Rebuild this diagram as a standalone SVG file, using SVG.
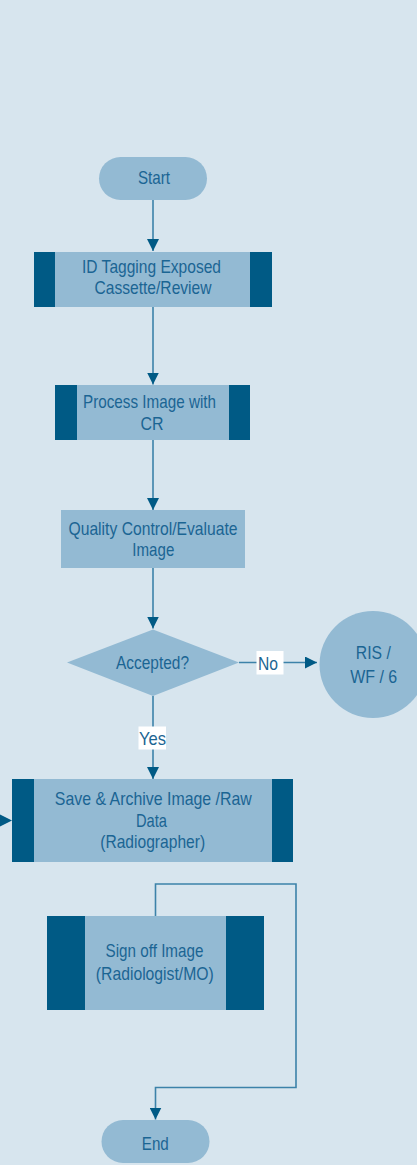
<svg xmlns="http://www.w3.org/2000/svg" width="417" height="1165" viewBox="0 0 417 1165">
<defs>
<style>
.n{fill:#93bad3;}
.d{fill:#005a85;}
.t{font-family:"Liberation Sans",Arial,sans-serif;font-size:19px;fill:#1b6593;text-anchor:middle;}
.e{fill:none;stroke:#3c82a9;stroke-width:1.6;}
.lb{fill:#ffffff;}
</style>
<marker id="ah" markerWidth="12" markerHeight="12" refX="12" refY="6" orient="auto" markerUnits="userSpaceOnUse">
<path d="M0,0 L12,6 L0,12 Z" fill="#005a85"/>
</marker>
</defs>
<rect x="0" y="0" width="417" height="1165" fill="#d7e5ee"/>

<g id="connectors">
<line class="e" x1="153" y1="200" x2="153" y2="251" marker-end="url(#ah)"/>
<line class="e" x1="153" y1="307" x2="153" y2="384.5" marker-end="url(#ah)"/>
<line class="e" x1="153" y1="440" x2="153" y2="510" marker-end="url(#ah)"/>
<line class="e" x1="153" y1="568" x2="153" y2="628.5" marker-end="url(#ah)"/>
<line class="e" x1="239" y1="662.5" x2="317" y2="662.5" marker-end="url(#ah)"/>
<line class="e" x1="153" y1="696" x2="153" y2="779" marker-end="url(#ah)"/>
<polyline class="e" points="155.5,916 155.5,884 296,884 296,1087.5 155.5,1087.5 155.5,1119.5" marker-end="url(#ah)"/>
<path d="M0,814.5 L12,820.5 L0,826.5 Z" fill="#005a85"/>
<rect class="lb" x="256.5" y="651" width="27" height="23.5"/>
<text class="t" x="268" y="670" textLength="20" lengthAdjust="spacingAndGlyphs">No</text>
<rect class="lb" x="138.5" y="726.5" width="27.5" height="23"/>
<text class="t" x="152.5" y="745" textLength="27" lengthAdjust="spacingAndGlyphs">Yes</text>
</g>

<g id="start">
<rect class="n" x="99" y="157" width="108" height="43" rx="21.5"/>
<text class="t" x="154" y="184" textLength="32" lengthAdjust="spacingAndGlyphs">Start</text>
</g>

<g id="id-tagging">
<rect class="n" x="34" y="252" width="238" height="55"/>
<rect class="d" x="34" y="252" width="21" height="55"/>
<rect class="d" x="250" y="252" width="22" height="55"/>
<text class="t" x="151.5" y="272.5" textLength="139" lengthAdjust="spacingAndGlyphs">ID Tagging Exposed</text>
<text class="t" x="153" y="294" textLength="117" lengthAdjust="spacingAndGlyphs">Cassette/Review</text>
</g>

<g id="process">
<rect class="n" x="55" y="385" width="195" height="55"/>
<rect class="d" x="55" y="385" width="22" height="55"/>
<rect class="d" x="229" y="385" width="21" height="55"/>
<text class="t" x="149.5" y="408" textLength="133" lengthAdjust="spacingAndGlyphs">Process Image with</text>
<text class="t" x="152" y="429.5" textLength="23" lengthAdjust="spacingAndGlyphs">CR</text>
</g>

<g id="quality">
<rect class="n" x="61" y="510" width="184" height="58"/>
<text class="t" x="153" y="535" textLength="169" lengthAdjust="spacingAndGlyphs">Quality Control/Evaluate</text>
<text class="t" x="153.3" y="556" textLength="42" lengthAdjust="spacingAndGlyphs">Image</text>
</g>

<g id="accepted">
<polygon class="n" points="153,629.5 239,662.5 153,696 67,662.5"/>
<text class="t" x="152.5" y="669" textLength="73" lengthAdjust="spacingAndGlyphs">Accepted?</text>
</g>

<g id="ris">
<circle class="n" cx="373" cy="664.5" r="53.5"/>
<text class="t" x="373.3" y="658.5" textLength="35" lengthAdjust="spacingAndGlyphs">RIS /</text>
<text class="t" x="373.7" y="682.5" textLength="47" lengthAdjust="spacingAndGlyphs">WF / 6</text>
</g>

<g id="save">
<rect class="n" x="12" y="779" width="281" height="83"/>
<rect class="d" x="12" y="779" width="22" height="83"/>
<rect class="d" x="272" y="779" width="21" height="83"/>
<text class="t" x="153.3" y="805" textLength="197" lengthAdjust="spacingAndGlyphs">Save &amp; Archive Image /Raw</text>
<text class="t" x="151.5" y="826.5" textLength="31" lengthAdjust="spacingAndGlyphs">Data</text>
<text class="t" x="152.7" y="848" textLength="105" lengthAdjust="spacingAndGlyphs">(Radiographer)</text>
</g>

<g id="signoff">
<rect class="n" x="47" y="916" width="217" height="94"/>
<rect class="d" x="47" y="916" width="38" height="94"/>
<rect class="d" x="226" y="916" width="38" height="94"/>
<text class="t" x="154.5" y="956.5" textLength="98" lengthAdjust="spacingAndGlyphs">Sign off Image</text>
<text class="t" x="154.8" y="979.5" textLength="118" lengthAdjust="spacingAndGlyphs">(Radiologist/MO)</text>
</g>

<g id="end">
<rect class="n" x="101.5" y="1120" width="108" height="43" rx="21.5"/>
<text class="t" x="155.3" y="1150" textLength="27" lengthAdjust="spacingAndGlyphs">End</text>
</g>
</svg>
